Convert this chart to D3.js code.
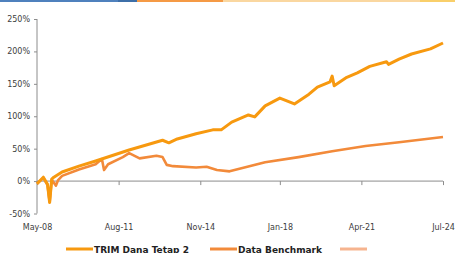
<!DOCTYPE html>
<html>
<head>
<meta charset="utf-8">
<script src="https://cdn.jsdelivr.net/npm/d3@7"></script>
<style>
  body { margin: 0; background: #fff; overflow: hidden; }
  .tick text { font-family: "DejaVu Sans", sans-serif; font-size: 8px; fill: #404040; }
  .legend text { font-family: "DejaVu Sans", sans-serif; font-size: 9px; font-weight: bold; fill: #222; }
</style>
</head>
<body>
<div class="chart"></div>
<script>
// data (month, cumulative return %)
var trimDates = ["2008-05","2008-08","2008-10","2008-11","2008-12","2009-01","2009-05","2010-01","2010-09","2012-01","2013-05","2013-08","2013-12","2014-09","2015-05","2015-09","2016-02","2016-10","2017-01","2017-06","2018-01","2018-08","2019-03","2019-07","2020-01","2020-02","2020-03","2020-09","2021-02","2021-08","2022-04","2022-05","2022-10","2023-04","2024-01","2024-07"];
var trimValues = [-4, 6, -5, -33, 3, 6, 14, 23, 31, 48, 63, 59, 65, 73, 79, 79, 91, 102, 99, 116, 128, 119, 134, 145, 153, 162, 147, 160, 167, 177, 184, 180, 188, 196, 204, 213];

var benchDates = ["2008-05","2008-08","2008-10","2008-11","2008-12","2009-02","2009-03","2009-05","2010-01","2010-09","2010-12","2011-01","2011-03","2011-10","2012-01","2012-06","2013-02","2013-05","2013-07","2013-10","2014-09","2015-02","2015-07","2016-01","2017-06","2018-10","2020-02","2021-06","2022-10","2024-07"];
var benchValues = [-4, 5, -6, -32, 2, -7, 1, 8, 18, 26, 34, 17, 26, 37, 43, 35, 39, 37, 25, 23, 21, 22, 17, 15, 29, 37, 46, 54, 60, 68];

var seriesNames = ["TRIM Dana Tetap 2", "Data Benchmark", ""];
var seriesColors = ["#F7990F", "#F28A3A", "#F6B48F"];

var xTickDates = ["2008-05", "2011-08", "2014-11", "2018-01", "2021-04", "2024-07"];
var yTicks = [-50, 0, 50, 100, 150, 200, 250];

var svgWidth = 455;
var svgHeight = 253;

var parseMonth = d3.timeParse("%Y-%m");

var svg = d3.select(".chart")
  .append("svg")
  .attr("width", svgWidth)
  .attr("height", svgHeight);

// coloured strip across the top
var strip = [["#4F81BD", 0, 118], ["#3E6FA8", 118, 137], ["#F59A45", 137, 223], ["#FAD7A0", 223, 420], ["#F9CF6A", 420, 455]];
svg.selectAll("rect.strip")
  .data(strip)
  .enter()
  .append("rect")
  .attr("class", "strip")
  .attr("x", function(d) { return d[1]; })
  .attr("y", 0)
  .attr("width", function(d) { return d[2] - d[1]; })
  .attr("height", 2)
  .attr("fill", function(d) { return d[0]; });

var xScale = d3.scaleTime()
  .domain([parseMonth("2008-05"), parseMonth("2024-07")])
  .range([37, 443]);

var yScale = d3.scaleLinear()
  .domain([-50, 250])
  .range([213.5, 19]);

// y axis
var leftAxis = d3.axisLeft(yScale)
  .tickValues(yTicks)
  .tickSize(3)
  .tickPadding(4)
  .tickFormat(function(d) { return d + "%"; });

var gy = svg.append("g")
  .attr("transform", "translate(37,0)")
  .call(leftAxis);
gy.select(".domain").attr("stroke", "#8c8c8c").attr("d", "M0," + yScale(250) + "V" + yScale(-50));
gy.selectAll(".tick line").attr("stroke", "#8c8c8c");

// x axis sits on the 0% line
var bottomAxis = d3.axisBottom(xScale)
  .tickValues(xTickDates.map(parseMonth))
  .tickSize(4)
  .tickFormat(d3.timeFormat("%b-%y"));

var gx = svg.append("g")
  .attr("transform", "translate(0," + yScale(0) + ")")
  .call(bottomAxis);
gx.select(".domain").attr("stroke", "#8c8c8c").attr("d", "M37,0H443");
gx.selectAll(".tick line").attr("stroke", "#8c8c8c");
gx.selectAll(".tick text")
  .attr("y", yScale(-50) - yScale(0) + 11);

var line = d3.line()
  .x(function(d) { return xScale(d[0]); })
  .y(function(d) { return yScale(d[1]); });

var benchData = benchDates.map(function(d, i) { return [parseMonth(d), benchValues[i]]; });
var trimData = trimDates.map(function(d, i) { return [parseMonth(d), trimValues[i]]; });

svg.append("path")
  .datum(benchData)
  .attr("fill", "none")
  .attr("stroke", seriesColors[1])
  .attr("stroke-width", 2.6)
  .attr("stroke-linejoin", "round")
  .attr("d", line);

svg.append("path")
  .datum(trimData)
  .attr("fill", "none")
  .attr("stroke", seriesColors[0])
  .attr("stroke-width", 3)
  .attr("stroke-linejoin", "round")
  .attr("d", line);

// legend
var legendX = [66, 210, 340];
var legend = svg.append("g").attr("class", "legend");
seriesNames.forEach(function(name, i) {
  legend.append("line")
    .attr("x1", legendX[i])
    .attr("x2", legendX[i] + 27)
    .attr("y1", 249)
    .attr("y2", 249)
    .attr("stroke", seriesColors[i])
    .attr("stroke-width", 3);
  legend.append("text")
    .attr("x", legendX[i] + 28)
    .attr("y", 252.5)
    .text(name);
});
</script>
</body>
</html>
